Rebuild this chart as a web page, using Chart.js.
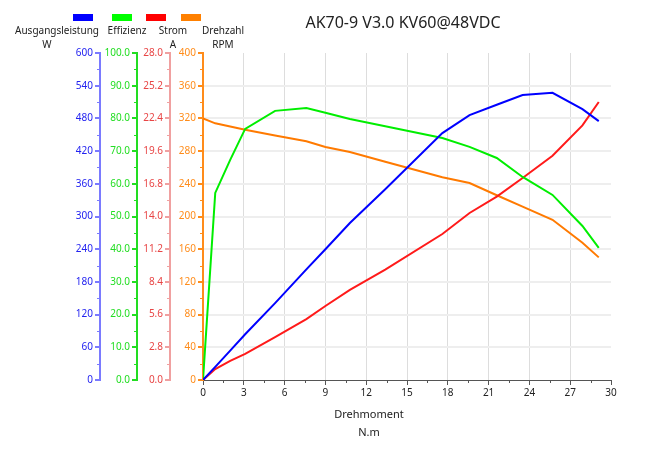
<!DOCTYPE html>
<html>
<head>
<meta charset="utf-8">
<title>AK70-9 V3.0 KV60@48VDC</title>
<script src="https://cdn.jsdelivr.net/npm/chart.js@4.4.1/dist/chart.umd.min.js"></script>
<style>
	body { margin: 0; background: #fff; }
	canvas { display: block; }
</style>
</head>
<body>
<canvas id="motor-chart" width="661" height="457"></canvas>
<script>
// Drehmoment (N.m)
const torque = [0, 0.9, 2.0, 3.1, 5.3, 7.6, 9.0, 10.8, 13.4, 17.6, 19.6, 21.6, 23.5, 25.7, 27.9, 29.1];
// Ausgangsleistung (W)
const power = [0, 24, 54, 84, 141, 203, 240, 288, 350, 453, 486, 505, 523, 527, 497, 475];
// Effizienz (%)
const efficiency = [0, 57.2, 67.3, 76.8, 82.3, 83.2, 81.7, 79.8, 77.6, 74.0, 71.3, 67.9, 62.1, 56.6, 47.1, 40.4];
// Strom (A)
const current = [0, 0.94, 1.63, 2.23, 3.68, 5.22, 6.34, 7.71, 9.45, 12.5, 14.3, 15.7, 17.3, 19.2, 21.8, 23.8];
// Drehzahl (RPM)
const speed = [320, 314, 310, 306, 299, 292, 285, 279, 267, 248, 241, 226, 212, 196, 168, 150];

const xTicks = [0, 30, 3];
const powerTicks = [0, 600, 60];
const effTicks = [0, 100, 10];
const currentTicks = [0, 28, 2.8];
const speedTicks = [0, 400, 40];

Chart.defaults.font.family = "'Noto Sans', sans-serif";
Chart.defaults.font.size = 10;

function pts(vals) {
	return torque.map((t, i) => ({ x: t, y: vals[i] }));
}

function yAxis(range, color, lineColor, weight, width, decimals, grid) {
	return {
		type: 'linear',
		position: 'left',
		weight: weight,
		min: range[0],
		max: range[1],
		afterFit: function (scale) { scale.width = width; },
		afterBuildTicks: function (scale) {
			let t = [];
			for (let i = 0; i <= 10; i++) t.push({ value: range[0] + i * range[2] });
			scale.ticks = t;
		},
		ticks: {
			color: color,
			padding: 2,
			callback: function (v) { return v.toFixed(decimals); }
		},
		border: { display: true, color: lineColor, width: 2 },
		grid: {
			drawOnChartArea: grid,
			tickLength: 5,
			tickColor: lineColor,
			color: function (ctx) {
				if (ctx.tick && (ctx.tick.value >= range[1] || ctx.tick.value <= range[0])) return 'rgba(0,0,0,0)';
				return '#eeeeee';
			},
			lineWidth: 2
		}
	};
}

// legend, titles and small ticks
const decor = {
	id: 'decor',
	afterDraw: function (chart) {
		const c = chart.ctx;
		c.save();

		// title
		c.fillStyle = '#222';
		c.textAlign = 'center';
		c.textBaseline = 'middle';
		c.font = "16px 'Noto Sans', sans-serif";
		c.fillText('AK70-9 V3.0 KV60@48VDC', 403, 23);

		// legend boxes
		const boxes = [[73, '#0000ff'], [112, '#00ff00'], [146, '#ff0000'], [181, '#ff8000']];
		boxes.forEach(b => {
			c.fillStyle = b[1];
			c.fillRect(b[0], 14, 20, 7);
		});

		c.fillStyle = '#222';
		c.font = "10px 'Noto Sans', sans-serif";
		c.fillText('Ausgangsleistung', 57, 31);
		c.fillText('Effizienz', 127, 31);
		c.fillText('Strom', 173, 31);
		c.fillText('Drehzahl', 223, 31);
		c.fillText('W', 47, 45);
		c.fillText('A', 173, 45);
		c.fillText('RPM', 223, 45);

		// x axis title
		c.font = "11px 'Noto Sans', sans-serif";
		c.fillText('Drehmoment', 369, 415);
		c.fillText('N.m', 369, 433);

		// minor ticks
		const minor = [['y0', powerTicks, '#7a7aff'], ['y1', effTicks, '#22dd22'], ['y2', currentTicks, '#f0a0a0'], ['y3', speedTicks, '#ff8c1a']];
		minor.forEach(m => {
			const s = chart.scales[m[0]];
			c.strokeStyle = m[2];
			c.lineWidth = 1;
			for (let i = 0; i < 10; i++) {
				const y = Math.round(s.getPixelForValue(m[1][0] + (i + 0.5) * m[1][2])) + 0.5;
				c.beginPath();
				c.moveTo(s.right - 3, y);
				c.lineTo(s.right, y);
				c.stroke();
			}
		});
		const xs = chart.scales.x;
		c.strokeStyle = '#555';
		for (let i = 0; i < 10; i++) {
			const x = Math.round(xs.getPixelForValue(xTicks[0] + (i + 0.5) * xTicks[2])) + 0.5;
			c.beginPath();
			c.moveTo(x, xs.top);
			c.lineTo(x, xs.top + 3);
			c.stroke();
		}
		c.restore();
	}
};

const data = {
	datasets: [
		{ label: 'Ausgangsleistung', data: pts(power), borderColor: '#0000ff', yAxisID: 'y0' },
		{ label: 'Effizienz', data: pts(efficiency), borderColor: '#00ee00', yAxisID: 'y1' },
		{ label: 'Strom', data: pts(current), borderColor: '#ff1a1a', yAxisID: 'y2' },
		{ label: 'Drehzahl', data: pts(speed), borderColor: '#ff7a00', yAxisID: 'y3' }
	]
};

const config = {
	type: 'line',
	data: data,
	options: {
		responsive: false,
		animation: false,
		layout: { padding: { left: 63, top: 53, right: 50, bottom: 57 } },
		elements: {
			line: { borderWidth: 2, tension: 0, fill: false },
			point: { radius: 0 }
		},
		plugins: {
			legend: { display: false },
			title: { display: false },
			tooltip: { enabled: false }
		},
		scales: {
			x: {
				type: 'linear',
				min: xTicks[0],
				max: xTicks[1],
				afterFit: function (scale) { scale.height = 20; },
				ticks: { stepSize: xTicks[2], color: '#222', padding: 2 },
				border: { display: true, color: '#555', width: 1 },
				grid: {
					tickLength: 5,
					tickColor: '#555',
					color: function (ctx) {
						if (ctx.tick && (ctx.tick.value <= xTicks[0] || ctx.tick.value >= xTicks[1])) return 'rgba(0,0,0,0)';
						return '#dddddd';
					},
					lineWidth: 1
				}
			},
			y0: yAxis(powerTicks, '#2323f0', '#7a7aff', 4, 37, 0, false),
			y1: yAxis(effTicks, '#22dd22', '#22dd22', 3, 37, 1, false),
			y2: yAxis(currentTicks, '#e84545', '#f0a0a0', 2, 33, 1, false),
			y3: yAxis(speedTicks, '#ff8c1a', '#ff8c1a', 1, 33, 0, true)
		}
	},
	plugins: [decor]
};

const myChart = new Chart(document.getElementById('motor-chart'), config);
</script>
</body>
</html>
